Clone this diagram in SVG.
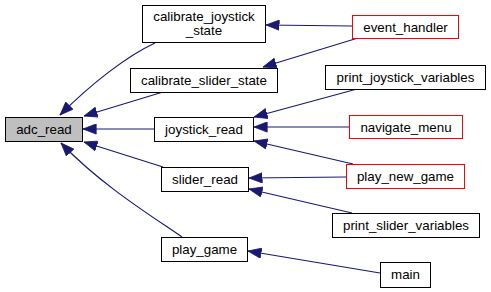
<svg xmlns="http://www.w3.org/2000/svg" width="491" height="292" viewBox="0 0 491 292">
  <style>
    .node rect { fill: #ffffff; stroke: #000000; stroke-width: 1; }
    .node.hl rect { fill: #bfbfbf; }
    .node.red rect { stroke: #ff0000; }
    .node text { font-family: "Liberation Sans", Arial, Helvetica, sans-serif; font-size: 13.33px; fill: #000000; text-anchor: middle; }
    .edge { fill: none; stroke: #191970; stroke-width: 1.2; marker-end: url(#arrow); }
  </style>
  <defs>
    <marker id="arrow" viewBox="0 0 14 11" markerWidth="14" markerHeight="11" refX="13.5" refY="5.5" orient="auto" markerUnits="userSpaceOnUse">
      <path d="M0.3,0.4 L13.5,5.5 L0.3,10.6 z" fill="#191970" stroke="#191970" stroke-width="0.8"/>
    </marker>
  </defs>
  <rect width="491" height="292" fill="#ffffff"/>

  <g id="edges">
    <path class="edge" d="M155,43 C127,56 92,83 60,115"/>
    <path class="edge" d="M163,92 L84,116"/>
    <path class="edge" d="M154,129 L83,129"/>
    <path class="edge" d="M163,167 L84,142"/>
    <path class="edge" d="M182,237 C150,215 100,184 61,143"/>
    <path class="edge" d="M352,26 L266,25"/>
    <path class="edge" d="M358,38 L263,67"/>
    <path class="edge" d="M357,89 L254,117"/>
    <path class="edge" d="M349,127 L254,127"/>
    <path class="edge" d="M353,164 L254,141"/>
    <path class="edge" d="M346,177 L249,178"/>
    <path class="edge" d="M352,213 L249,189"/>
    <path class="edge" d="M380,273 L248,251"/>
  </g>

  <g id="adc_read" class="node hl">
    <rect x="5.5" y="117.5" width="77" height="24"/>
    <text x="44" y="134">adc_read</text>
  </g>
  <g id="calibrate_joystick_state" class="node">
    <rect x="142.5" y="5.5" width="123" height="37"/>
    <text x="204" y="21">calibrate_joystick</text>
    <text x="204" y="35">_state</text>
  </g>
  <g id="calibrate_slider_state" class="node">
    <rect x="130.5" y="68.5" width="147" height="24"/>
    <text x="204" y="85">calibrate_slider_state</text>
  </g>
  <g id="joystick_read" class="node">
    <rect x="154.5" y="117.5" width="99" height="24"/>
    <text x="204" y="134">joystick_read</text>
  </g>
  <g id="slider_read" class="node">
    <rect x="161.5" y="167.5" width="87" height="24"/>
    <text x="205" y="184">slider_read</text>
  </g>
  <g id="play_game" class="node">
    <rect x="161.5" y="237.5" width="86" height="24"/>
    <text x="204.5" y="254">play_game</text>
  </g>
  <g id="event_handler" class="node red">
    <rect x="352.5" y="15.5" width="106" height="23"/>
    <text x="405.5" y="31.5">event_handler</text>
  </g>
  <g id="print_joystick_variables" class="node">
    <rect x="325.5" y="65.5" width="160" height="24"/>
    <text x="405.5" y="82">print_joystick_variables</text>
  </g>
  <g id="navigate_menu" class="node red">
    <rect x="349.5" y="115.5" width="113" height="23"/>
    <text x="406" y="131.5">navigate_menu</text>
  </g>
  <g id="play_new_game" class="node red">
    <rect x="346.5" y="164.5" width="118" height="24"/>
    <text x="405.5" y="181">play_new_game</text>
  </g>
  <g id="print_slider_variables" class="node">
    <rect x="332.5" y="213.5" width="147" height="24"/>
    <text x="406" y="230">print_slider_variables</text>
  </g>
  <g id="main" class="node">
    <rect x="380.5" y="262.5" width="50" height="25"/>
    <text x="405.5" y="279">main</text>
  </g>
</svg>
